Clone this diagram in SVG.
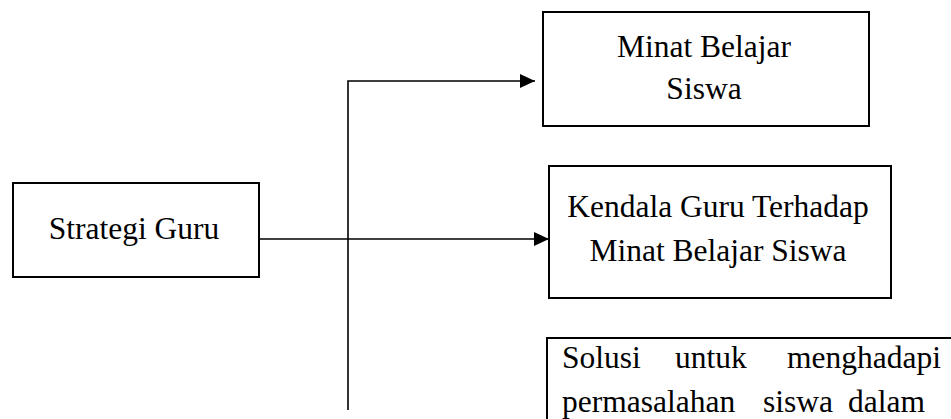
<svg xmlns="http://www.w3.org/2000/svg" width="951" height="419" viewBox="0 0 951 419">
<style>
.box{fill:#fff;stroke:#000;stroke-width:2}
.line{fill:none;stroke:#000;stroke-width:1.6}
.t{font-family:"Liberation Serif","Times New Roman",serif;font-size:31.5px;fill:#000}
.c{text-anchor:middle}
</style>
<defs>
<marker id="arr" markerUnits="userSpaceOnUse" markerWidth="16" markerHeight="16" refX="15" refY="7" orient="auto">
<path d="M0,0 L15,7 L0,14 z" fill="#000"/>
</marker>
</defs>
<rect width="951" height="419" fill="#fff"/>
<g id="connectors">
<path class="line" d="M259,239 H549" marker-end="url(#arr)"/>
<path class="line" d="M348,410 V81 H535" marker-end="url(#arr)"/>
</g>
<g id="strategi">
<rect class="box" x="13" y="183" width="246" height="94"/>
<text class="t c" x="134" y="239">Strategi Guru</text>
</g>
<g id="minat">
<rect class="box" x="543" y="12" width="326" height="114"/>
<text class="t c" x="704" y="57">Minat Belajar</text>
<text class="t c" x="704" y="99">Siswa</text>
</g>
<g id="kendala">
<rect class="box" x="549" y="166" width="342" height="132"/>
<text class="t c" x="718" y="217">Kendala Guru Terhadap</text>
<text class="t c" x="718" y="261">Minat Belajar Siswa</text>
</g>
<g id="solusi">
<rect class="box" x="547" y="338" width="430" height="120"/>
<text class="t" y="368"><tspan x="562">Solusi</tspan><tspan x="675">untuk</tspan><tspan x="787">menghadapi</tspan></text>
<text class="t" y="412"><tspan x="562">permasalahan</tspan><tspan x="763">siswa</tspan><tspan x="848">dalam</tspan></text>
</g>
</svg>
